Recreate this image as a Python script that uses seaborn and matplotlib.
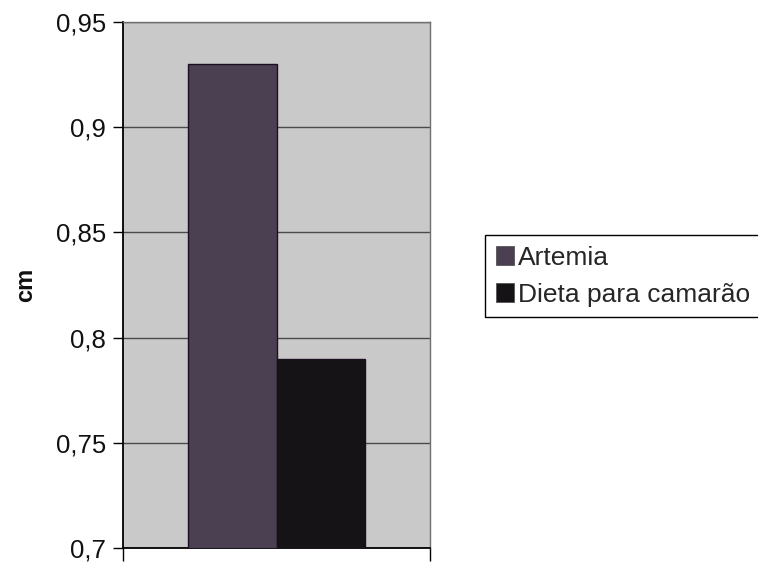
import matplotlib
matplotlib.use("Agg")
import matplotlib.pyplot as plt
import seaborn as sns
import pandas as pd
from matplotlib.ticker import FuncFormatter, FixedLocator

# Mean length per diet
dietas = ["Artemia", "Dieta para camarão"]
comprimento = [0.93, 0.79]
cores = ["#4b3f52", "#151316"]
yticks = [0.7, 0.75, 0.8, 0.85, 0.9, 0.95]

df = pd.DataFrame({"grupo": [""] * len(dietas), "dieta": dietas, "cm": comprimento})

sns.set_theme(style="white")
plt.rcParams["font.family"] = ["Liberation Sans", "DejaVu Sans"]

fig = plt.figure(figsize=(7.58, 5.65), dpi=100)
ax = fig.add_axes([0.1623, 0.030, 0.405, 0.931])
ax.set_facecolor("#c9c9c9")

sns.barplot(data=df, x="grupo", y="cm", hue="dieta", hue_order=dietas,
            palette=cores, saturation=1, width=0.577, edgecolor="#1a1020",
            linewidth=1.0, ax=ax, zorder=3)

ax.set_xlim(-0.5, 0.5)
ax.set_ylim(0.7, 0.95)
ax.yaxis.set_major_locator(FixedLocator(yticks))
ax.yaxis.set_major_formatter(FuncFormatter(lambda v, p: ("%g" % round(v, 2)).replace(".", ",")))
ax.grid(axis="y", color="#4a4a4a", linewidth=1.0, zorder=1)
ax.set_axisbelow(True)

ax.set_xticks([-0.5, 0.5])
ax.set_xticklabels(["", ""])
ax.set_xlabel("")
ax.tick_params(axis="x", direction="out", length=9, width=1.0, color="black", bottom=True)
ax.tick_params(axis="y", direction="out", length=7, width=1.0, color="black", left=True,
               labelsize=18.5, pad=5, labelcolor="#111111")

for s in ["left", "bottom"]:
    ax.spines[s].set_color("black")
    ax.spines[s].set_linewidth(1.3)
for s in ["top", "right"]:
    ax.spines[s].set_color("#707070")
    ax.spines[s].set_linewidth(1.0)

ax.set_ylabel("cm", fontsize=17, fontweight="bold", color="#111111")
ax.yaxis.set_label_coords(-0.28, 0.5)

ax.get_legend().remove()
handles = [plt.Rectangle((0, 0), 1, 1, facecolor=c, edgecolor="#555555", linewidth=0.6) for c in cores]
leg = fig.legend(handles, dietas, loc="upper left", bbox_to_anchor=(0.64, 0.584),
                 fontsize=19, frameon=True, fancybox=False, framealpha=1,
                 edgecolor="black", handlelength=0.7, handleheight=0.7,
                 handletextpad=0.15, borderpad=0.4, labelspacing=0.5, borderaxespad=0)
leg.get_frame().set_linewidth(1.0)

fig.savefig("out.png", dpi=100, facecolor="white")
